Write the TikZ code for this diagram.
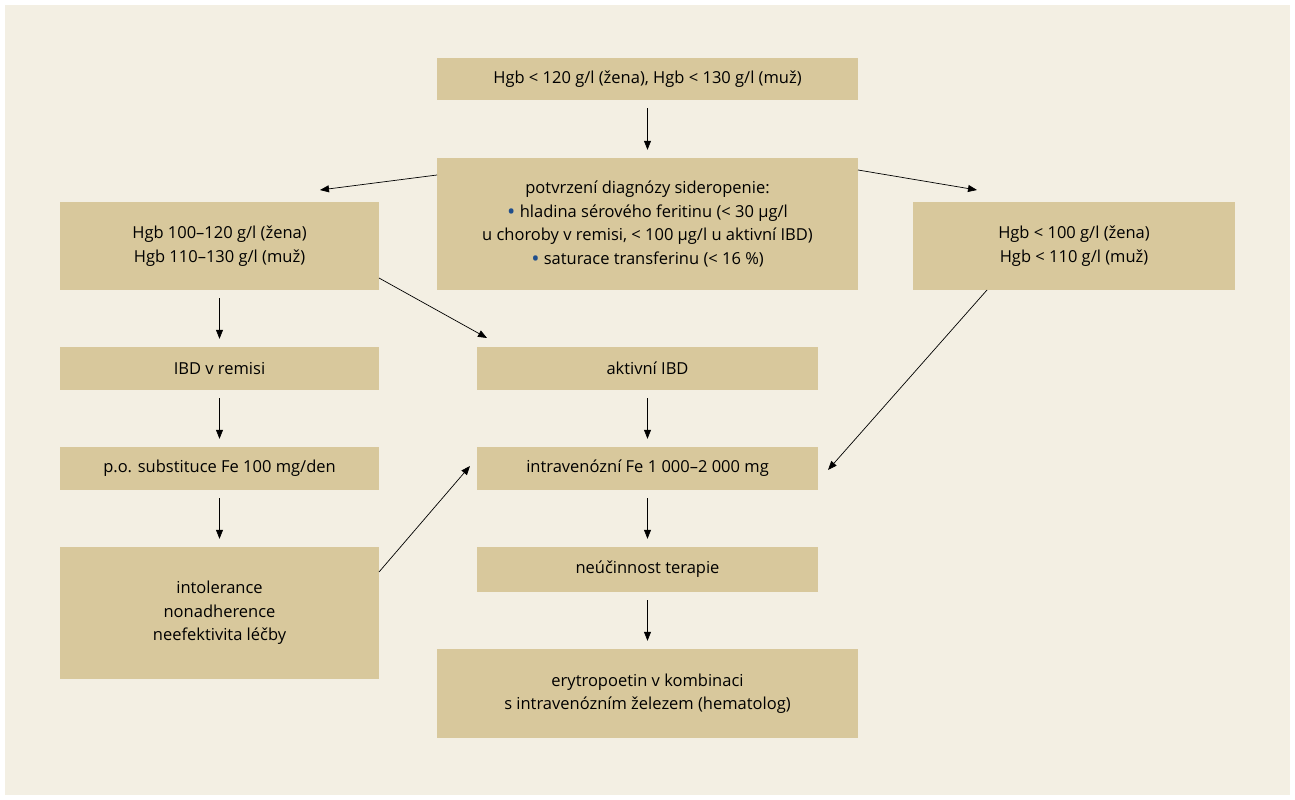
\documentclass[tikz,border=0pt]{standalone}
\usepackage{fontspec}
\setmainfont{Open Sans}
\usetikzlibrary{arrows.meta}
\definecolor{bg}{HTML}{F3EFE3}
\definecolor{bx}{HTML}{D8C89C}
\definecolor{bl}{HTML}{1F4E8C}
\begin{document}
\begin{tikzpicture}[x=1pt,y=-1pt,
  box/.style={fill=bx,draw=none,inner sep=0pt,align=center,font=\fontsize{16.5}{23.5}\selectfont},
  ar/.style={-{Triangle[length=9pt,width=7pt]},line width=0.7pt}]
\fill[white] (0,0) rectangle (1295,800);
\fill[bg] (5,5) rectangle (1290,795);
\newcommand\bx[6]{\node[box,minimum width=#4-#2,minimum height=#5-#3] (#1) at ({(#2+#4)/2},{(#3+#5)/2}) {#6};}
\newcommand\blt{\raisebox{-2.5pt}{\color{bl}\fontsize{22}{22}\selectfont•}}
\bx{top}{437}{58}{858}{100}{Hgb < 120 g/l (žena), Hgb < 130 g/l (muž)}
\bx{mid}{437}{158}{858}{290}{potvrzení diagnózy sideropenie:\\\blt{} hladina sérového feritinu (< 30 µg/l\\u choroby v remisi, < 100 µg/l u aktivní IBD)\\\blt{} saturace transferinu (< 16 \%)}
\bx{left}{60}{202}{379}{290}{Hgb 100–120 g/l (žena)\\Hgb 110–130 g/l (muž)}
\bx{right}{913}{202}{1235}{290}{Hgb < 100 g/l (žena)\\Hgb < 110 g/l (muž)}
\bx{rem}{60}{347}{379}{390}{IBD v remisi}
\bx{akt}{477}{347}{818}{390}{aktivní IBD}
\bx{po}{60}{447}{379}{490}{p.o. substituce Fe 100 mg/den}
\bx{iv}{477}{447}{818}{490}{intravenózní Fe 1 000–2 000 mg}
\bx{intol}{60}{547}{379}{679}{intolerance\\nonadherence\\neefektivita léčby}
\bx{neu}{477}{547}{818}{592}{neúčinnost terapie}
\bx{ery}{437}{649}{858}{738}{erytropoetin v kombinaci\\s intravenózním železem (hematolog)}
\draw[ar] ([yshift=-8pt]top.south) -- ([yshift=8pt]mid.north);
\draw[ar] ([yshift=-8pt]left.south) -- ([yshift=8pt]rem.north);
\draw[ar] ([yshift=-8pt]rem.south) -- ([yshift=8pt]po.north);
\draw[ar] ([yshift=-8pt]po.south) -- ([yshift=8pt]intol.north);
\draw[ar] ([yshift=-8pt]akt.south) -- ([yshift=8pt]iv.north);
\draw[ar] ([yshift=-8pt]iv.south) -- ([yshift=8pt]neu.north);
\draw[ar] ([yshift=-8pt]neu.south) -- ([yshift=8pt]ery.north);
\coordinate (lt) at (320,190); \coordinate (rt) at (977,190);
\coordinate (ms1) at (437,175); \coordinate (ms2) at (858,170);
\draw[ar] (ms1) -- (lt);
\draw[ar] (ms2) -- (rt);
\coordinate (l1) at (379,278); \coordinate (a1) at (487,338);
\draw[ar] (l1) -- (a1);
\coordinate (r1) at (987,290); \coordinate (i1) at (828,470);
\draw[ar] (r1) -- (i1);
\coordinate (t1) at (379,572); \coordinate (i2) at (470,466);
\draw[ar] (t1) -- (i2);
\end{tikzpicture}
\end{document}
